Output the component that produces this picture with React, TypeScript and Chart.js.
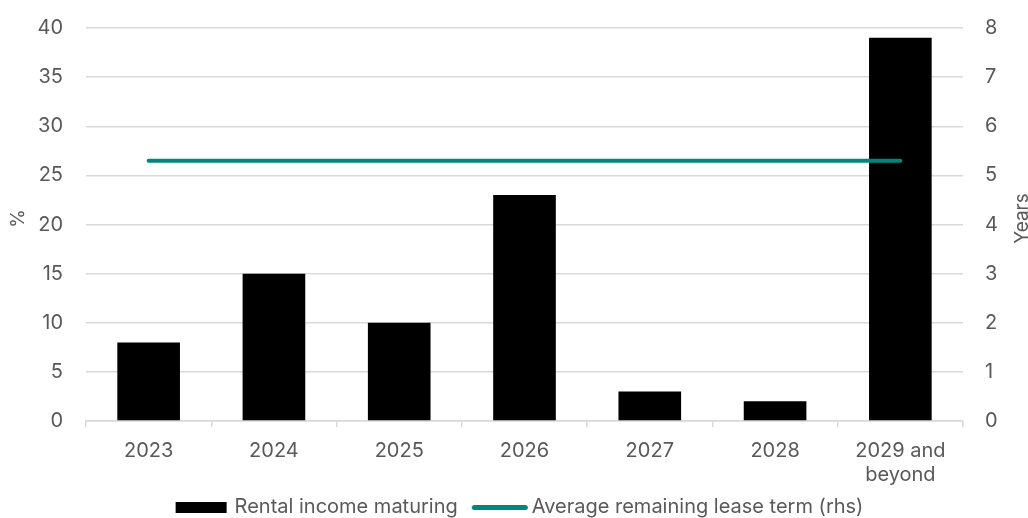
import React, { useEffect, useRef } from 'react';
import { Chart, registerables } from 'chart.js';

Chart.register(...registerables);

const categories: (string | string[])[] = ['2023', '2024', '2025', '2026', '2027', '2028', ['2029 and', 'beyond']];
const rentalIncomeMaturing = [8, 15, 10, 23, 3, 2, 39];
const avgRemainingLeaseTerm = [5.3, 5.3, 5.3, 5.3, 5.3, 5.3, 5.3];
const seriesNames = ['Rental income maturing', 'Average remaining lease term (rhs)'];
const leftAxisTitle = '%';
const rightAxisTitle = 'Years';

const BAR_COLOR = '#000000';
const LINE_COLOR = '#00877A';
const GRID_COLOR = '#D9D9D9';
const TEXT_COLOR = '#595959';
const FONT = 'Inter, "Noto Sans", sans-serif';

function makeIcon(kind: 'bar' | 'line'): HTMLCanvasElement {
  const c = document.createElement('canvas');
  c.width = 128;
  c.height = 16;
  const ctx = c.getContext('2d')!;
  if (kind === 'bar') {
    ctx.fillStyle = BAR_COLOR;
    ctx.fillRect(45, 3, 51, 11);
  } else {
    ctx.strokeStyle = LINE_COLOR;
    ctx.lineWidth = 5;
    ctx.lineCap = 'round';
    ctx.beginPath();
    ctx.moveTo(46.5, 8.5);
    ctx.lineTo(97.5, 8.5);
    ctx.stroke();
  }
  return c;
}

const titlesPlugin = {
  id: 'axisTitles',
  afterDraw(chart: any) {
    const ctx = chart.ctx;
    const area = chart.chartArea;
    const cy = (area.top + area.bottom) / 2 - 6;
    ctx.save();
    ctx.fillStyle = TEXT_COLOR;
    ctx.font = `19px ${FONT}`;
    ctx.textAlign = 'center';
    ctx.textBaseline = 'middle';
    ctx.translate(18, cy);
    ctx.rotate(-Math.PI / 2);
    ctx.fillText(leftAxisTitle, 0, 0);
    ctx.restore();
    ctx.save();
    ctx.fillStyle = TEXT_COLOR;
    ctx.font = `19px ${FONT}`;
    ctx.textAlign = 'center';
    ctx.textBaseline = 'middle';
    ctx.translate(1022, cy);
    ctx.rotate(-Math.PI / 2);
    ctx.fillText(rightAxisTitle, 0, 0);
    ctx.restore();
  },
};

export default function App() {
  const ref = useRef<HTMLCanvasElement | null>(null);
  useEffect(() => {
    if (!ref.current) return;
    const barIcon = makeIcon('bar');
    const lineIcon = makeIcon('line');
    const chart = new Chart(ref.current, {
      type: 'bar',
      data: {
        labels: categories as any,
        datasets: [
          {
            type: 'bar',
            label: seriesNames[0],
            data: rentalIncomeMaturing,
            backgroundColor: BAR_COLOR,
            barPercentage: 0.5,
            categoryPercentage: 1,
            yAxisID: 'y',
            order: 2,
          },
          {
            type: 'line',
            label: seriesNames[1],
            data: avgRemainingLeaseTerm,
            borderColor: LINE_COLOR,
            backgroundColor: LINE_COLOR,
            borderWidth: 4,
            borderCapStyle: 'round',
            pointRadius: 0,
            yAxisID: 'y1',
            order: 1,
          },
        ] as any,
      },
      options: {
        animation: false,
        responsive: true,
        maintainAspectRatio: false,
        layout: { padding: { top: 28, bottom: -9, left: 0, right: 0 } },
        plugins: {
          tooltip: { enabled: false },
          legend: {
            position: 'bottom',
            labels: {
              usePointStyle: true,
              pointStyleWidth: 60,
              boxHeight: 14,
              padding: 4,
              color: TEXT_COLOR,
              font: { family: FONT, size: 20 },
              generateLabels: () => [
                { text: seriesNames[0], pointStyle: barIcon as any, datasetIndex: 0, fillStyle: BAR_COLOR, strokeStyle: BAR_COLOR, lineWidth: 0, fontColor: TEXT_COLOR, hidden: false },
                { text: seriesNames[1], pointStyle: lineIcon as any, datasetIndex: 1, fillStyle: LINE_COLOR, strokeStyle: LINE_COLOR, lineWidth: 0, fontColor: TEXT_COLOR, hidden: false },
              ],
            },
          },
        },
        scales: {
          x: {
            offset: true,
            grid: { display: true, drawOnChartArea: false, offset: true, color: GRID_COLOR, tickLength: 6, lineWidth: 1.5 },
            border: { display: true, color: GRID_COLOR, width: 1.5 },
            ticks: { color: TEXT_COLOR, font: { family: FONT, size: 20 }, maxRotation: 0, autoSkip: false, padding: 12 },
            afterFit: (s: any) => { s.height = 72; },
          },
          y: {
            position: 'left',
            min: 0,
            max: 40,
            ticks: { stepSize: 5, color: TEXT_COLOR, font: { family: FONT, size: 20 }, padding: 0 },
            grid: { color: GRID_COLOR, drawTicks: true, tickLength: 23, tickColor: 'rgba(0,0,0,0)', lineWidth: 1.5 },
            border: { display: false },
            afterFit: (s: any) => { s.width = 86; },
          },
          y1: {
            position: 'right',
            min: 0,
            max: 8,
            ticks: { stepSize: 1, color: TEXT_COLOR, font: { family: FONT, size: 20 }, padding: 0 },
            grid: { display: true, drawOnChartArea: false, drawTicks: true, tickLength: 22, tickColor: 'rgba(0,0,0,0)' },
            border: { display: false },
            afterFit: (s: any) => { s.width = 65; },
          },
        },
      } as any,
      plugins: [titlesPlugin],
    });
    return () => chart.destroy();
  }, []);
  return (
    <div style={{ position: 'absolute', left: 0, top: 0, width: 1028, height: 518 }}>
      <canvas ref={ref} />
    </div>
  );
}
